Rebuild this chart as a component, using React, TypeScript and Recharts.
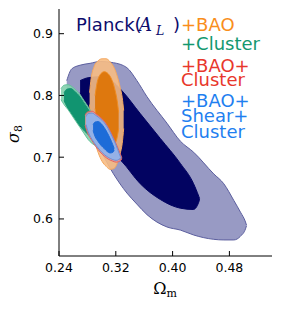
import { ComposedChart, Area, XAxis, YAxis } from "recharts";

const xTicks = [0.24, 0.32, 0.4, 0.48];
const yTicks = [0.6, 0.7, 0.8, 0.9];

// contour slices: [Omega_m, sigma8 low, sigma8 high]
const planckOuter = [
  [0.2509, 0.805, 0.824],
  [0.2579, 0.788, 0.843],
  [0.2697, 0.762, 0.849],
  [0.2838, 0.735, 0.852],
  [0.2979, 0.711, 0.855],
  [0.3167, 0.673, 0.853],
  [0.3356, 0.642, 0.845],
  [0.3497, 0.624, 0.824],
  [0.3639, 0.607, 0.798],
  [0.3921, 0.587, 0.755],
  [0.4109, 0.582, 0.726],
  [0.4297, 0.574, 0.708],
  [0.4579, 0.567, 0.673],
  [0.4721, 0.566, 0.657],
  [0.4862, 0.566, 0.63],
  [0.4956, 0.572, 0.611],
  [0.5027, 0.584, 0.595],
  [0.5041, 0.589, 0.59],
];

const planckInner = [
  [0.2697, 0.8045, 0.824],
  [0.281, 0.7755, 0.8287],
  [0.2979, 0.7352, 0.8303],
  [0.312, 0.711, 0.8255],
  [0.3286, 0.693, 0.8077],
  [0.3544, 0.657, 0.7706],
  [0.3827, 0.6315, 0.7303],
  [0.4109, 0.6174, 0.69],
  [0.4293, 0.6153, 0.6577],
  [0.4368, 0.6271, 0.6368],
  [0.438, 0.632, 0.633],
];

const baoOuter = [
  [0.2831, 0.7852, 0.8045],
  [0.2852, 0.7594, 0.8271],
  [0.2894, 0.7303, 0.8465],
  [0.2951, 0.7077, 0.8561],
  [0.3007, 0.6932, 0.8594],
  [0.3064, 0.6852, 0.8594],
  [0.312, 0.6803, 0.8545],
  [0.3177, 0.6819, 0.8448],
  [0.3219, 0.69, 0.8319],
  [0.3262, 0.7061, 0.8126],
  [0.329, 0.7223, 0.7965],
  [0.3311, 0.7465, 0.7755],
];

const baoInner = [
  [0.2908, 0.7787, 0.7997],
  [0.2937, 0.7561, 0.8206],
  [0.2979, 0.7384, 0.8335],
  [0.3036, 0.7255, 0.8384],
  [0.3092, 0.7174, 0.8352],
  [0.3149, 0.7158, 0.8239],
  [0.3191, 0.7223, 0.8077],
  [0.3219, 0.7319, 0.7916],
  [0.324, 0.7465, 0.7723],
];

const clusterOuter = [
  [0.2428, 0.7932, 0.811],
  [0.2471, 0.7852, 0.8166],
  [0.2527, 0.7771, 0.8174],
  [0.2584, 0.7674, 0.8142],
  [0.264, 0.7577, 0.8085],
  [0.2697, 0.7481, 0.8013],
  [0.2753, 0.7384, 0.7916],
  [0.281, 0.7287, 0.7819],
  [0.2866, 0.7223, 0.7706],
  [0.2923, 0.719, 0.7577],
  [0.2965, 0.7223, 0.7432],
  [0.2986, 0.7271, 0.7319],
];

const clusterInner = [
  [0.2471, 0.7916, 0.8045],
  [0.2513, 0.7819, 0.8102],
  [0.2569, 0.7723, 0.811],
  [0.2626, 0.7626, 0.8061],
  [0.2682, 0.7529, 0.7997],
  [0.2739, 0.7448, 0.79],
  [0.2795, 0.7384, 0.7803],
  [0.2852, 0.7335, 0.769],
  [0.2894, 0.7335, 0.7577],
  [0.2923, 0.7384, 0.7465],
];

const baoClusterOuter = [
  [0.2767, 0.752, 0.768],
  [0.28, 0.74, 0.773],
  [0.2866, 0.7265, 0.7745],
  [0.2923, 0.7165, 0.77],
  [0.2979, 0.7085, 0.765],
  [0.3036, 0.702, 0.7585],
  [0.3092, 0.697, 0.749],
  [0.3149, 0.694, 0.736],
  [0.3205, 0.692, 0.7215],
  [0.3262, 0.694, 0.706],
  [0.3285, 0.6975, 0.699],
];

const shearOuter = [
  [0.2781, 0.7529, 0.7658],
  [0.281, 0.7416, 0.7706],
  [0.2866, 0.7287, 0.7715],
  [0.2923, 0.719, 0.7674],
  [0.2979, 0.711, 0.7626],
  [0.3036, 0.7045, 0.7561],
  [0.3092, 0.6997, 0.7465],
  [0.3149, 0.6965, 0.7335],
  [0.3205, 0.6948, 0.719],
  [0.3247, 0.6965, 0.7061],
  [0.3269, 0.6989, 0.6997],
];

const shearInner = [
  [0.288, 0.7432, 0.7529],
  [0.2908, 0.7335, 0.7569],
  [0.2951, 0.7255, 0.7577],
  [0.2993, 0.719, 0.7545],
  [0.3036, 0.7142, 0.7481],
  [0.3078, 0.7094, 0.74],
  [0.312, 0.7069, 0.7303],
  [0.3156, 0.7077, 0.7206],
  [0.3177, 0.711, 0.7142],
];

const toRows = (pts: number[][]) => pts.map(([x, lo, hi]) => ({ x, band: [lo, hi] }));

const layers = [
  { id: "planckOuter", pts: planckOuter, fill: "#989ac4", stroke: "#5b5e9e", op: 1 },
  { id: "planckInner", pts: planckInner, fill: "#020361", stroke: "#020361", op: 1 },
  { id: "baoOuter", pts: baoOuter, fill: "#f7bd84", stroke: "#f4a860", op: 0.9 },
  { id: "baoInner", pts: baoInner, fill: "#de780e", stroke: "#f08c20", op: 1 },
  { id: "clusterOuter", pts: clusterOuter, fill: "#86d0ae", stroke: "#66c29c", op: 0.92 },
  { id: "clusterInner", pts: clusterInner, fill: "#119470", stroke: "#119470", op: 1 },
  { id: "baoClusterOuter", pts: baoClusterOuter, fill: "#f0a0a0", stroke: "#e06464", op: 0.8 },
  { id: "shearOuter", pts: shearOuter, fill: "#90b2ea", stroke: "#6c90d6", op: 0.95 },
  { id: "shearInner", pts: shearInner, fill: "#1d6cd8", stroke: "#1d6cd8", op: 1 },
];

const tickFont = { fontFamily: "DejaVu Sans", fontSize: 12.5, fill: "#000" };
const sans = "DejaVu Sans";
const serif = "DejaVu Serif";

export default function App() {
  return (
    <div style={{ position: "absolute", left: 0, top: 0, width: 282, height: 313, background: "#fff" }}>
      <ComposedChart width={282} height={313} margin={{ top: 9, right: 10, bottom: 27, left: 9 }}>
        <XAxis xAxisId="b" dataKey="x" type="number" domain={[0.24, 0.54]} ticks={xTicks}
          tickFormatter={(v: number) => v.toFixed(2)} height={30} tickSize={-5} tickMargin={12}
          tick={tickFont} stroke="#000" axisLine={{ stroke: "#000" }} tickLine={{ stroke: "#000" }} />
        <XAxis xAxisId="t" dataKey="x" type="number" orientation="top" domain={[0.24, 0.54]} ticks={xTicks}
          height={0} tickSize={-5} tick={false} axisLine={{ stroke: "#000" }} tickLine={{ stroke: "#000" }} />
        <YAxis yAxisId="l" type="number" domain={[0.54, 0.94]} ticks={yTicks}
          tickFormatter={(v: number) => v.toFixed(1)} width={50} tickSize={-5} tickMargin={11}
          tick={tickFont} axisLine={{ stroke: "#000" }} tickLine={{ stroke: "#000" }} />
        <YAxis yAxisId="r" type="number" orientation="right" domain={[0.54, 0.94]} ticks={yTicks}
          width={0} tickSize={-5} tick={false} axisLine={{ stroke: "#000" }} tickLine={{ stroke: "#000" }} />
        {layers.map((l) => (
          <Area key={l.id} data={toRows(l.pts)} dataKey="band" xAxisId="b" yAxisId="l" type="monotone"
            fill={l.fill} fillOpacity={l.op} stroke={l.stroke} strokeWidth={1} dot={false} activeDot={false}
            isAnimationActive={false} />
        ))}
      </ComposedChart>
      <svg width={282} height={313} style={{ position: "absolute", left: 0, top: 0, pointerEvents: "none" }}>
        <text x={76} y={31} fontFamily={sans} fontSize={18} fill="#0c0c6c">Planck(</text>
        <text x={139} y={31} fontFamily={serif} fontStyle="italic" fontSize={18} fill="#0c0c6c">A</text>
        <text x={156} y={35} fontFamily={serif} fontStyle="italic" fontSize={12.5} fill="#0c0c6c">L</text>
        <text x={173} y={31} fontFamily={sans} fontSize={18} fill="#0c0c6c">)</text>
        <text x={181} y={31} fontFamily={sans} fontSize={18} fill="#f98e1c">+BAO</text>
        <text x={181} y={50} fontFamily={sans} fontSize={18} fill="#139870">+Cluster</text>
        <text fontFamily={sans} fontSize={18} fill="#e8372c">
          <tspan x={181} y={71.5}>+BAO+</tspan>
          <tspan x={181} y={86}>Cluster</tspan>
        </text>
        <text fontFamily={sans} fontSize={18} fill="#1f7ff0">
          <tspan x={181} y={106.5}>+BAO+</tspan>
          <tspan x={181} y={122}>Shear+</tspan>
          <tspan x={181} y={138}>Cluster</tspan>
        </text>
        <text x={165} y={294} textAnchor="middle" fontFamily={serif} fontSize={16} fill="#000">
          Ω<tspan fontSize={11} dy={3}>m</tspan>
        </text>
        <text x={14} y={139} textAnchor="middle" transform="rotate(-90 14 134)" fontFamily={serif} fontSize={16} fill="#000">
          <tspan fontStyle="italic">σ</tspan><tspan fontSize={11} dy={3}>8</tspan>
        </text>
      </svg>
    </div>
  );
}
